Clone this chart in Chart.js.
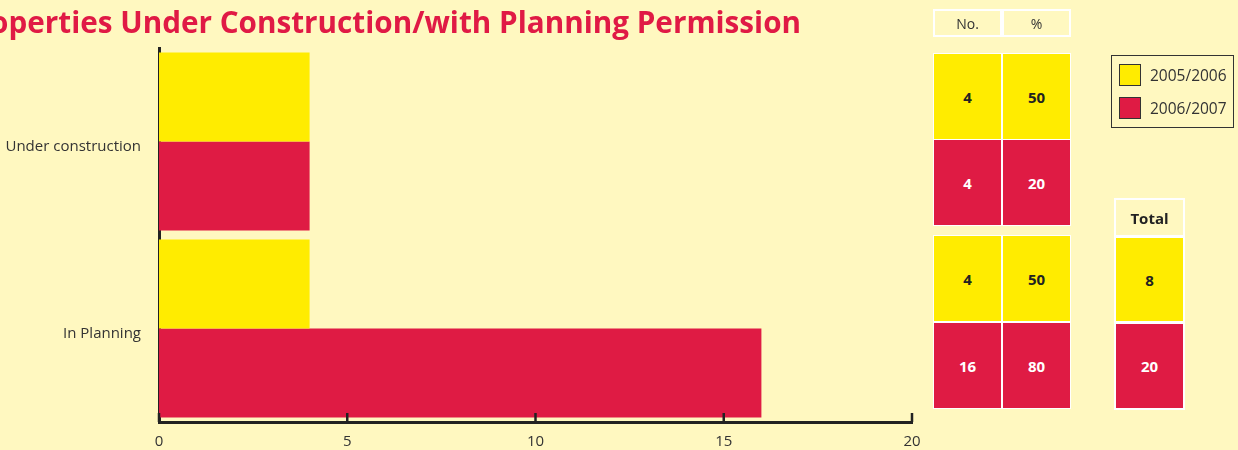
<!DOCTYPE html>
<html>
<head>
<meta charset="utf-8">
<script src="https://cdn.jsdelivr.net/npm/chart.js@4.4.1/dist/chart.umd.min.js"></script>
<style>
  html, body { margin:0; padding:0; background:#FFF8C0; width:1238px; height:450px; overflow:hidden; }
  #wrap { position:relative; width:1238px; height:450px; }
  #chart { position:absolute; left:0; top:0; }
  #title { position:absolute; top:7px; right:437px; white-space:nowrap; font-family:"Open Sans", sans-serif; font-weight:700; font-size:30px; line-height:30px; color:#E01A45; transform-origin:100% 50%; }
  .cell { position:absolute; box-sizing:border-box; display:flex; align-items:center; justify-content:center; font-family:"Open Sans", sans-serif; font-size:15px; font-weight:700; }
  .hdr { border:2px solid #fff; font-weight:400; color:#333; font-size:14px; }
  .leg { position:absolute; box-sizing:border-box; border:1px solid #333; }
  .sw { position:absolute; box-sizing:border-box; width:22px; height:22px; border:1px solid #333; }
  .lt { position:absolute; font-family:"Open Sans", sans-serif; font-size:15.5px; color:#333; line-height:20px; }
</style>
</head>
<body>
<div id="wrap">
  <canvas id="chart" width="1238" height="450"></canvas>
  <div id="title"></div>
  <div id="tables"></div>
</div>
<script>
// ---- data ----
const titleText = "Properties Under Construction/with Planning Permission";
const categories = ["Under construction", "In Planning"];
const seriesNames = ["2005/2006", "2006/2007"];
const values2005 = [4, 4];
const values2006 = [4, 16];
const percent2005 = [50, 50];
const percent2006 = [20, 80];
const totals = [8, 20];
const xTicks = [0, 5, 10, 15, 20];
const tableHeaders = ["No.", "%"];
const totalHeader = "Total";

const YELLOW = "#FFEC00";
const RED = "#DF1B44";
const seriesColors = [YELLOW, RED];
const textColors = ["#222", "#fff"];

// ---- title ----
const t = document.getElementById("title");
t.textContent = titleText;
(function fitTitle(){
  const probe = document.createElement("span");
  probe.style.cssText = "position:absolute;visibility:hidden;white-space:nowrap;font-family:'Open Sans',sans-serif;font-weight:700;font-size:30px;";
  probe.textContent = titleText.slice(2);
  document.body.appendChild(probe);
  const w = probe.getBoundingClientRect().width;
  probe.remove();
  const s = 811 / w;
  t.style.transform = "scaleX(" + s + ")";
})();

// ---- chart ----
const tickMarks = {
  id: "tickMarks",
  afterDraw(chart) {
    const x = chart.scales.x, ctx = chart.ctx, b = chart.chartArea.bottom;
    ctx.save();
    ctx.strokeStyle = "#222";
    ctx.lineWidth = 2.5;
    xTicks.forEach(v => {
      const px = x.getPixelForValue(v);
      ctx.beginPath();
      ctx.moveTo(px, b);
      ctx.lineTo(px, b - 9);
      ctx.stroke();
    });
    ctx.restore();
  }
};

new Chart(document.getElementById("chart"), {
  type: "bar",
  data: {
    labels: categories,
    datasets: [
      { label: seriesNames[0], data: values2005, backgroundColor: YELLOW, borderWidth: 0, barPercentage: 1, categoryPercentage: 0.952 },
      { label: seriesNames[1], data: values2006, backgroundColor: RED, borderWidth: 0, barPercentage: 1, categoryPercentage: 0.952 }
    ]
  },
  options: {
    indexAxis: "y",
    responsive: false,
    animation: false,
    layout: { padding: { left: 0, right: 326, top: 48, bottom: 0 } },
    plugins: { legend: { display: false }, tooltip: { enabled: false }, title: { display: false } },
    scales: {
      x: {
        min: 0, max: 20, z: 1,
        afterBuildTicks: s => { s.ticks = xTicks.map(v => ({ value: v })); },
        afterFit: s => { s.height = 28; },
        grid: { display: false, drawTicks: false },
        border: { display: true, color: "#222", width: 3 },
        ticks: { padding: 11, color: "#333", font: { family: "Open Sans", size: 15 } }
      },
      y: {
        z: 1,
        afterFit: s => { s.width = 159; },
        grid: { display: false, drawTicks: false },
        border: { display: true, color: "#222", width: 3 },
        ticks: { padding: 18, labelOffset: 5, color: "#333", font: { family: "Open Sans", size: 15 } }
      }
    }
  },
  plugins: [tickMarks]
});

// ---- side tables & legend ----
const T = document.getElementById("tables");
function cell(x, y, w, h, txt, bg, color, cls, extra) {
  const d = document.createElement("div");
  d.className = "cell" + (cls ? " " + cls : "");
  d.style.left = x + "px"; d.style.top = y + "px";
  d.style.width = w + "px"; d.style.height = h + "px";
  if (bg) d.style.background = bg;
  if (color) d.style.color = color;
  if (extra) Object.assign(d.style, extra);
  d.textContent = txt;
  T.appendChild(d);
}
// header
const colX = [933, 1002];
const colW = [69, 69];
tableHeaders.forEach((h, i) => cell(colX[i], 9, colW[i], 28, h, null, null, "hdr"));
// data rows: category-major, series-minor
const rowTop = [53, 139, 235, 322];
const rowH = [87, 87, 87, 87];
const nos = [values2005, values2006];
const pcts = [percent2005, percent2006];
let r = 0;
categories.forEach((c, ci) => {
  [0, 1].forEach(si => {
    cell(colX[0], rowTop[r], colW[0], rowH[r], String(nos[si][ci]), seriesColors[si], textColors[si], null, { border: "1px solid #fff" });
    cell(colX[1], rowTop[r], colW[1], rowH[r], String(pcts[si][ci]), seriesColors[si], textColors[si], null, { border: "1px solid #fff" });
    r++;
  });
});
// totals table
cell(1114, 198, 71, 39, totalHeader, null, "#222", null, { border: "2px solid #fff", fontSize: "15px" });
cell(1114, 236, 71, 87, String(totals[0]), seriesColors[0], textColors[0], null, { border: "2px solid #fff" });
cell(1114, 322, 71, 88, String(totals[1]), seriesColors[1], textColors[1], null, { border: "2px solid #fff" });

// legend
const lg = document.createElement("div");
lg.className = "leg";
Object.assign(lg.style, { left: "1111px", top: "55px", width: "123px", height: "73px" });
T.appendChild(lg);
seriesNames.forEach((n, i) => {
  const sw = document.createElement("div");
  sw.className = "sw";
  sw.style.left = "1119px"; sw.style.top = (64 + i * 33) + "px";
  sw.style.background = seriesColors[i];
  T.appendChild(sw);
  const lt = document.createElement("div");
  lt.className = "lt";
  lt.style.left = "1150px"; lt.style.top = (65 + i * 33) + "px";
  lt.textContent = n;
  T.appendChild(lt);
});
</script>
</body>
</html>
